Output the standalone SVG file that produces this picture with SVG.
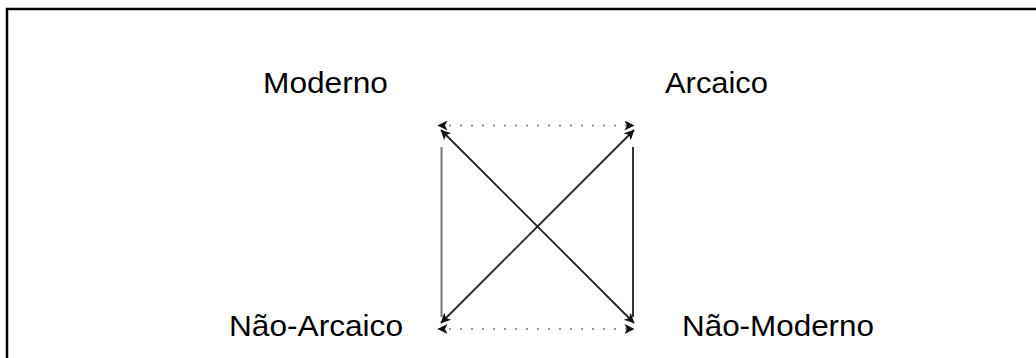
<svg xmlns="http://www.w3.org/2000/svg" width="1036" height="358" viewBox="0 0 1036 358">
<defs>
<style>
.lbl{font-family:"Liberation Sans",Arial,sans-serif;font-size:29px;fill:#000}
.diag{stroke:#222;stroke-width:1.8;fill:none}
.dot{stroke:#777;stroke-width:1.6;stroke-dasharray:2 9;fill:none}
.vert{stroke-width:2;fill:none}
</style>
<marker id="ah" viewBox="0 0 10 10" refX="9.5" refY="5" markerWidth="12" markerHeight="10" markerUnits="userSpaceOnUse" orient="auto-start-reverse">
<path d="M0,0 L10,5 L0,10 L2.5,5 Z" fill="#111"/>
</marker>
</defs>
<rect width="1036" height="358" fill="#fff"/>
<path d="M7,358 V9 H1036" stroke="#000" stroke-width="2.5" fill="none"/>
<g id="connectors">
<line class="dot" x1="438" y1="125.5" x2="634" y2="125.5" marker-start="url(#ah)" marker-end="url(#ah)"/>
<line class="dot" x1="438" y1="329" x2="634" y2="329" marker-start="url(#ah)" marker-end="url(#ah)"/>
<line class="vert" stroke="#777" x1="441.5" y1="147" x2="441.5" y2="317"/>
<line class="vert" stroke="#333" x1="633" y1="147" x2="633" y2="317"/>
<line class="diag" x1="441" y1="130" x2="634" y2="323" marker-start="url(#ah)" marker-end="url(#ah)"/>
<line class="diag" x1="634" y1="130" x2="441" y2="323" marker-start="url(#ah)" marker-end="url(#ah)"/>
</g>
<g id="moderno"><text class="lbl" x="263" y="93" textLength="125" lengthAdjust="spacingAndGlyphs">Moderno</text></g>
<g id="arcaico"><text class="lbl" x="665" y="93" textLength="103" lengthAdjust="spacingAndGlyphs">Arcaico</text></g>
<g id="nao-arcaico"><text class="lbl" x="229" y="336" textLength="174" lengthAdjust="spacingAndGlyphs">Não-Arcaico</text></g>
<g id="nao-moderno"><text class="lbl" x="682" y="336" textLength="192" lengthAdjust="spacingAndGlyphs">Não-Moderno</text></g>
</svg>
